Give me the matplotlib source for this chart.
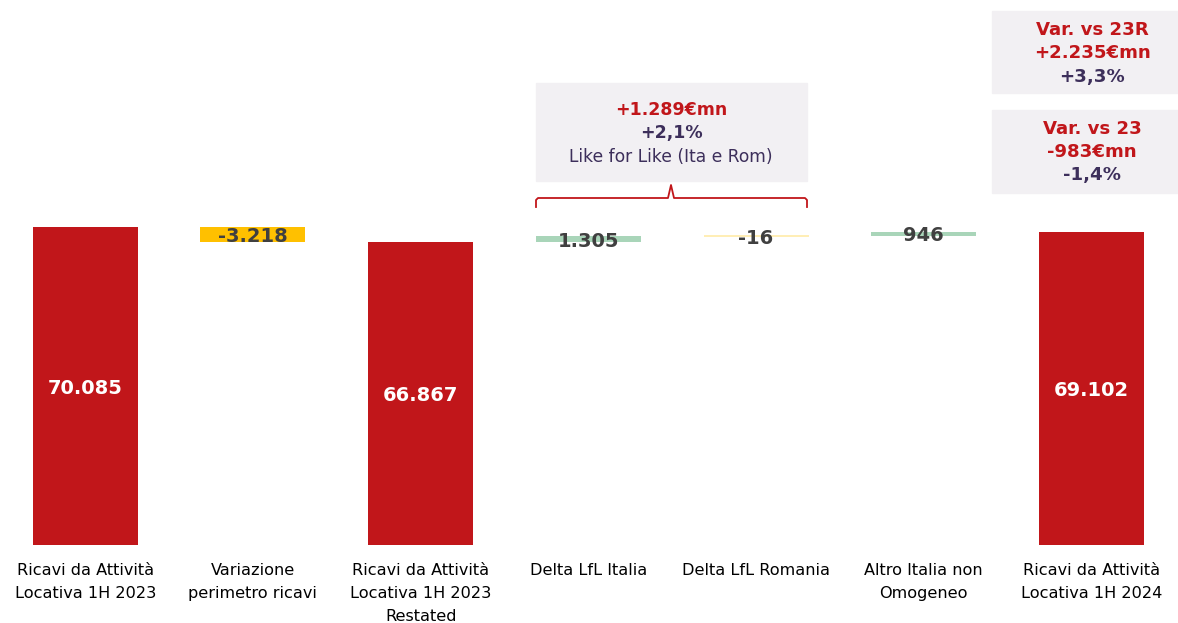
import matplotlib
matplotlib.use("Agg")
import matplotlib.pyplot as plt
from matplotlib.patches import Rectangle

# data (thousand €)
categories = ["Ricavi da Attività\nLocativa 1H 2023",
              "Variazione\nperimetro ricavi",
              "Ricavi da Attività\nLocativa 1H 2023\nRestated",
              "Delta LfL Italia",
              "Delta LfL Romania",
              "Altro Italia non\nOmogeneo",
              "Ricavi da Attività\nLocativa 1H 2024"]
values = [70085, -3218, 66867, 1305, -16, 946, 69102]
is_total = [True, False, True, False, False, False, True]
value_labels = ["70.085", "-3.218", "66.867", "1.305", "-16", "946", "69.102"]

lfl_lines = ["+1.289€mn", "+2,1%", "Like for Like (Ita e Rom)"]
var23r_lines = ["Var. vs 23R", "+2.235€mn", "+3,3%"]
var23_lines = ["Var. vs 23", "-983€mn", "-1,4%"]

RED = "#C1161A"
YELLOW = "#FFC000"
GREEN = "#A9D5B9"
PALE = "#FFEBA8"
BOX = "#F2F0F3"
PURPLE = "#3D2F5B"
DARK = "#404040"

W, H = 1178, 623
fig = plt.figure(figsize=(W / 100, H / 100), dpi=100)
ax = fig.add_axes([1.35 / W, 78 / H, 1174 / W, 545 / H])
ax.set_xlim(-0.5, 6.5)
ax.set_ylim(0, 545 * 220.6)
ax.axis("off")

def fx(px):
    return px / W

def fy(py):
    return 1 - py / H

# waterfall bars
running = 0
for i, v in enumerate(values):
    if is_total[i]:
        bottom, height = 0, v
        color = RED
        running = v
    else:
        bottom, height = running, v
        running += v
        if v < 0 and i == 1:
            color = YELLOW
        elif v < 0:
            color = PALE
        else:
            color = GREEN
    if i == 4:
        ax.bar(i, height, bottom=bottom, width=0.626, color=color,
               edgecolor=color, linewidth=1.2)
    else:
        ax.bar(i, height, bottom=bottom, width=0.626, color=color)
    ax.annotate(value_labels[i], (i, bottom + height / 2),
                xytext=(0, -1.5), textcoords="offset points",
                ha="center", va="center",
                color="white" if is_total[i] else DARK,
                fontsize=14, fontweight="bold", family="DejaVu Sans")

# category labels
for i, c in enumerate(categories):
    ax.text(i, -18 * 220.6, c, ha="center", va="top", fontsize=11.6,
            family="DejaVu Sans", linespacing=1.68, color="black")

# annotation boxes
def box(x0, y0, x1, y1):
    fig.patches.append(Rectangle((fx(x0), fy(y1)), fx(x1) - fx(x0),
                                 fy(y0) - fy(y1), transform=fig.transFigure,
                                 color=BOX, zorder=0))

box(536, 83, 807, 181)
fig.text(fx(671), fy(110), lfl_lines[0], ha="center", va="center",
         color=RED, fontsize=12.5, fontweight="bold", family="DejaVu Sans")
fig.text(fx(671), fy(133), lfl_lines[1], ha="center", va="center",
         color=PURPLE, fontsize=12.5, fontweight="bold", family="DejaVu Sans")
fig.text(fx(671), fy(157), lfl_lines[2], ha="center", va="center",
         color=PURPLE, fontsize=12.3, family="DejaVu Sans")

# brace
bx = [536, 536, 538, 668, 671, 674, 805, 807, 807]
by = [207, 200, 198, 198, 185, 198, 198, 200, 207]
fig.lines.append(plt.Line2D([fx(x) for x in bx], [fy(y) for y in by],
                            transform=fig.transFigure, color=RED, lw=1.3))

box(992, 11, 1178, 93)
for line, py, col in zip(var23r_lines, [30, 53, 77], [RED, RED, PURPLE]):
    fig.text(fx(1092), fy(py), line, ha="center", va="center", color=col,
             fontsize=13.1, fontweight="bold", family="DejaVu Sans")

box(992, 110, 1178, 193)
for line, py, col in zip(var23_lines, [129, 152, 175], [RED, RED, PURPLE]):
    fig.text(fx(1092), fy(py), line, ha="center", va="center", color=col,
             fontsize=13.1, fontweight="bold", family="DejaVu Sans")

fig.savefig("out.png", dpi=100, facecolor="white")
